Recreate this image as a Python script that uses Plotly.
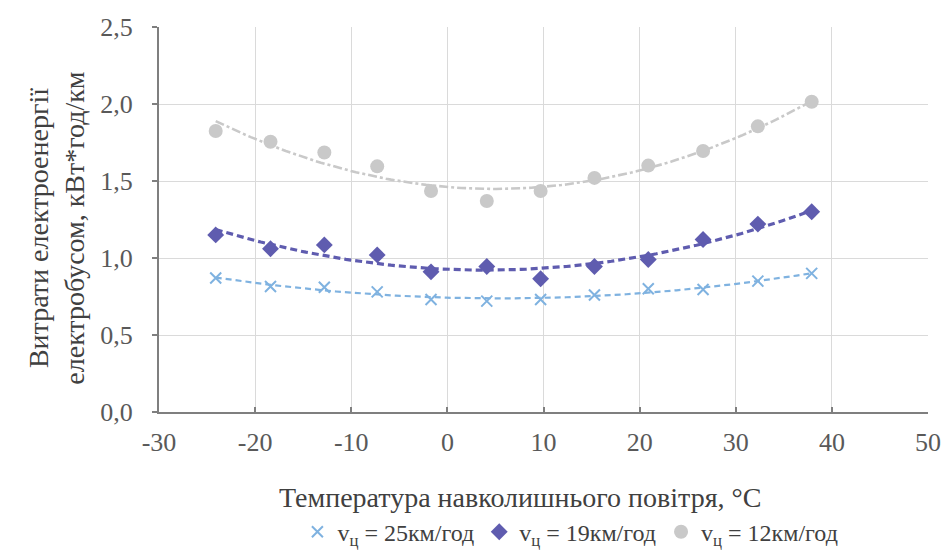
import numpy as np
import plotly.graph_objects as go

# Ambient temperature, °C
temperature = [-24.1, -18.4, -12.8, -7.3, -1.7, 4.1, 9.7, 15.3, 20.9, 26.6, 32.3, 37.9]

# Specific energy consumption, kWh/km, for three speeds
cons_25 = [0.87, 0.815, 0.81, 0.78, 0.73, 0.72, 0.73, 0.76, 0.80, 0.795, 0.85, 0.90]
cons_19 = [1.15, 1.06, 1.085, 1.02, 0.91, 0.945, 0.865, 0.945, 0.99, 1.12, 1.22, 1.30]
cons_12 = [1.825, 1.755, 1.685, 1.595, 1.435, 1.37, 1.435, 1.52, 1.60, 1.695, 1.855, 2.015]

x_ticks = [-30, -20, -10, 0, 10, 20, 30, 40, 50]
y_ticks = [0.0, 0.5, 1.0, 1.5, 2.0, 2.5]

legend_names = ["v<sub>ц</sub> = 25км/год", "v<sub>ц</sub> = 19км/год", "v<sub>ц</sub> = 12км/год"]

FONT = "Liberation Serif, Times New Roman, serif"

series = [
    dict(y=cons_25, name=legend_names[0], color="#7fb2e0", symbol="x-thin", size=11, dash="6px,4px", width=2.2),
    dict(y=cons_19, name=legend_names[1], color="#5f5caf", symbol="diamond", size=13, dash="7px,4px", width=3.2),
    dict(y=cons_12, name=legend_names[2], color="#c9c9c9", symbol="circle", size=14, dash="dashdot", width=2.6),
]

fig = go.Figure()

t = np.array(temperature)
t_fit = np.linspace(t.min(), t.max(), 120)

# second-order polynomial trend lines
for s in series:
    coef = np.polyfit(t, np.array(s["y"]), 2)
    fig.add_trace(go.Scatter(
        x=t_fit, y=np.polyval(coef, t_fit), mode="lines",
        line=dict(color=s["color"], dash=s["dash"], width=s["width"]),
        showlegend=False, hoverinfo="skip",
    ))

for s in series:
    marker = dict(color=s["color"], symbol=s["symbol"], size=s["size"])
    if s["symbol"] == "x-thin":
        marker["line"] = dict(color=s["color"], width=2)
    fig.add_trace(go.Scatter(
        x=temperature, y=s["y"], mode="markers", name=s["name"], marker=marker,
    ))

fig.update_layout(
    width=948, height=553,
    margin=dict(l=159, r=20, t=27, b=141, autoexpand=False),
    paper_bgcolor="#ffffff", plot_bgcolor="#ffffff",
    separators=", ",
    font=dict(family=FONT, size=20, color="#595959"),
    showlegend=True,
    legend=dict(
        orientation="h", x=0.535, xanchor="center", y=-0.312, yanchor="middle",
        font=dict(family=FONT, size=24, color="#404040"),
        itemwidth=30, tracegroupgap=0, bgcolor="rgba(0,0,0,0)",
    ),
)

fig.update_xaxes(
    range=[-30, 50], tickvals=x_ticks, ticktext=[str(v) for v in x_ticks],
    showgrid=True, gridcolor="#dadada", gridwidth=1,
    showline=True, linecolor="#7f7f7f", linewidth=2,
    ticks="inside", ticklen=5, tickcolor="#7f7f7f", tickwidth=1.5,
    ticklabelstandoff=6,
    zeroline=False, tickfont=dict(family=FONT, size=26, color="#595959"),
)
fig.update_yaxes(
    range=[0, 2.5], tickvals=y_ticks, tickformat=".1f",
    showgrid=True, gridcolor="#dadada", gridwidth=1,
    showline=True, linecolor="#7f7f7f", linewidth=2,
    ticks="outside", ticklen=5, tickcolor="#7f7f7f", tickwidth=1.5,
    ticklabelstandoff=14,
    zeroline=False, tickfont=dict(family=FONT, size=26, color="#595959"),
)

# axis titles
fig.add_annotation(
    text="Температура навколишнього повітря, °C",
    xref="paper", yref="paper", x=0.469, y=-0.221, xanchor="center", yanchor="middle",
    showarrow=False, font=dict(family=FONT, size=28, color="#404040"),
)
fig.add_annotation(
    text="Витрати електроенергії<br>електробусом, кВт*год/км",
    xref="paper", yref="paper", x=-0.133, y=0.478, xanchor="center", yanchor="middle",
    textangle=-90, showarrow=False, font=dict(family=FONT, size=28, color="#404040"),
)

fig.write_html("out.html")
